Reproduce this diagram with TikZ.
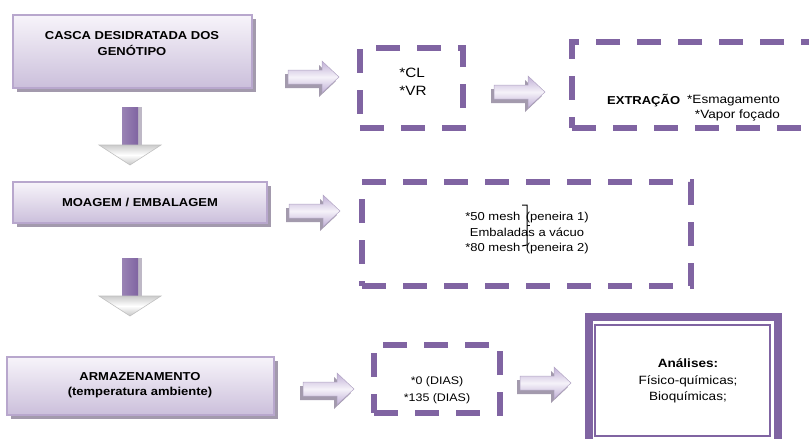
\documentclass[tikz,border=0pt]{standalone}
\usepackage{fontspec}
\setmainfont{Liberation Sans}[FakeStretch=1.13]
\usetikzlibrary{shadows}
\definecolor{dpurple}{HTML}{8064A2}
\definecolor{boxtop}{HTML}{F7F4FA}
\definecolor{boxbot}{HTML}{CBBFDB}
\definecolor{boxline}{HTML}{B8A7CD}
\definecolor{shadowc}{HTML}{A39AAD}
\definecolor{arredge}{HTML}{BFAED5}
\definecolor{arrmid}{HTML}{F5F2F9}
\tikzset{
  procbox/.style={draw=boxline, line width=1.5pt, top color=boxtop, bottom color=boxbot,
    drop shadow={shadow xshift=4pt, shadow yshift=-4pt, fill=shadowc, opacity=1}, inner sep=0pt},
  dashbox/.style={draw=dpurple, line width=5.5pt, dash pattern=on 24pt off 17pt, inner sep=0pt},
  lbl/.style={font=\fontsize{11.5}{16}\selectfont, align=center, inner sep=0pt},
  blbl/.style={font=\bfseries\fontsize{11.5}{16}\selectfont, align=center, inner sep=0pt},
  rarr/.pic={
    \fill[shadowc] (-3,-3) -- (31,-3) -- (31,-12) -- (48,4) -- (31,20) -- (31,11) -- (-3,11) -- cycle;
    \path[draw=arredge!80!gray, line width=0.5pt, top color=arredge, bottom color=arredge, middle color=arrmid]
      (0,-7) -- (34,-7) -- (34,-16) -- (51,0) -- (34,16) -- (34,7) -- (0,7) -- cycle;
  },
  darr/.pic={
    \fill[shadowc!70] (8,0) rectangle (12,40);
    \path[left color=dpurple!80, right color=dpurple] (-8,0) rectangle (8,40);
    \path[draw=gray!50, line width=0.6pt, top color=gray!40, bottom color=gray!45, middle color=white]
      (-31,38) -- (31,38) -- (0,58) -- cycle;
  },
}
\begin{document}
\begin{tikzpicture}[x=1pt,y=-1pt]
\useasboundingbox (0,0) rectangle (809,439);
\clip (0,0) rectangle (809,439);

% left process boxes
\node[procbox, minimum width=239pt, minimum height=73pt] (casca) at (132.5,51.5) {};
\node[blbl] (cascat) at (132,44) {CASCA DESIDRATADA DOS\\GENÓTIPO};

\node[procbox, minimum width=254pt, minimum height=41pt] (moag) at (140,202.5) {};
\node[blbl] (moagt) at (140,202) {MOAGEM / EMBALAGEM};

\node[procbox, minimum width=267pt, minimum height=58pt] (armz) at (140.5,386) {};
\node[blbl, font=\bfseries\fontsize{11.5}{15}\selectfont] (armzt) at (140,385) {ARMAZENAMENTO\\(temperatura ambiente)};

% down arrows
\pic at (130,107) {darr};
\pic at (130,258) {darr};

% dashed boxes
\node[dashbox, minimum width=103pt, minimum height=80pt] (clbox) at (411.5,88) {};
\node[font=\fontsize{13.5}{18}\selectfont, align=left, inner sep=0pt] (clt) at (413,82) {*CL\\*VR};

\node[dashbox, minimum width=268pt, minimum height=86pt] (extbox) at (706,85) {};
\node[blbl, anchor=west] (extt) at (607,101) {EXTRAÇÃO};
\node[lbl, font=\fontsize{12}{16}\selectfont, anchor=west] (esm) at (687,101) {*Esmagamento};
\node[lbl, font=\fontsize{12}{16}\selectfont, anchor=north east] (vap) at ([yshift=-3pt]esm.south east) {*Vapor foçado};

\node[dashbox, minimum width=329pt, minimum height=104pt] (meshbox) at (526.5,234) {};
\node[lbl, font=\fontsize{11.5}{15.5}\selectfont] (mesht) at (527,233.5) {*50 mesh \,(peneira 1)\\Embaladas a vácuo\\*80 mesh \,(peneira 2)};
\draw[line width=1pt] (522,205) -- (527,205) -- (527,245) -- (522,246);
\draw[line width=1pt] (527,225) -- (530,225);

\node[dashbox, minimum width=126pt, minimum height=68pt] (diasbox) at (437,379) {};
\node[lbl, font=\fontsize{11}{17}\selectfont] (diast) at (437,390) {*0 (DIAS)\\*135 (DIAS)};

% analises
\node[draw=dpurple, line width=8pt, fill=white, minimum width=189pt, minimum height=143pt] (anaout) at (683.5,388.5) {};
\node[draw=dpurple, line width=1.5pt, fill=white, minimum width=175pt, minimum height=111pt] (anain) at (682.5,380.5) {};
\node[lbl, font=\fontsize{12}{16.5}\selectfont] (anat) at (688,381) {{\bfseries Análises:}\\Físico-químicas;\\Bioquímicas;};

% right arrows
\pic at (288,77) {rarr};
\pic at (494,92) {rarr};
\pic at (289,211) {rarr};
\pic at (303,389) {rarr};
\pic at (520,383) {rarr};
\end{tikzpicture}
\end{document}
